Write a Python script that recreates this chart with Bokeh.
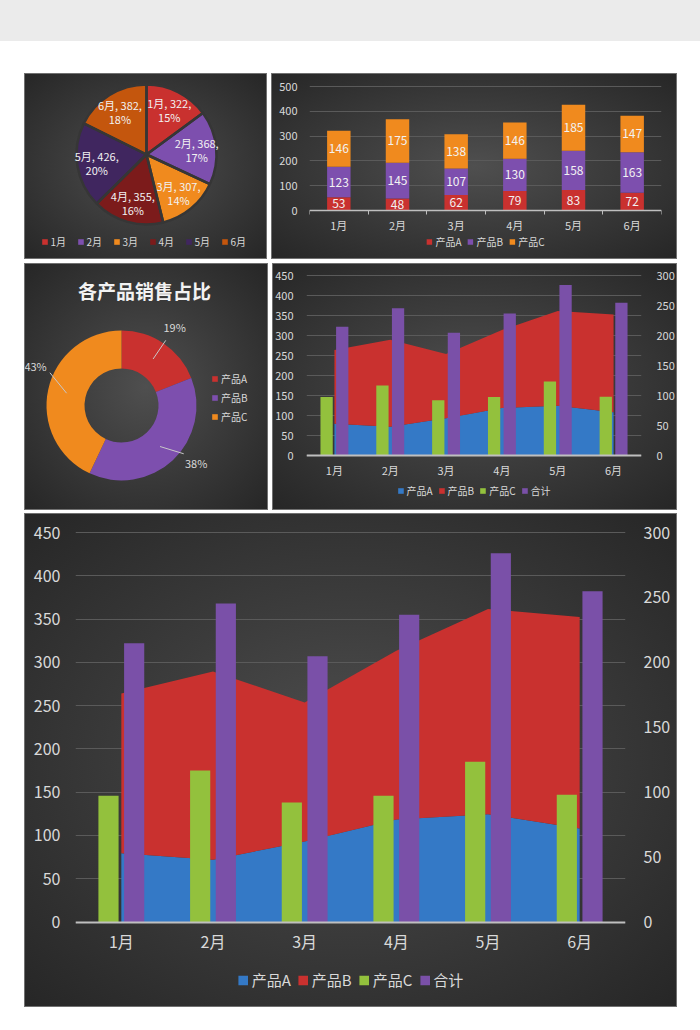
import math
from bokeh.plotting import figure
from bokeh.models import (Range1d, LinearAxis, FixedTicker, Legend, LegendItem,
                          ColumnDataSource, Div, CustomJSTickFormatter)
from bokeh.layouts import row, column
from bokeh.core.properties import value
from bokeh.transform import dodge
from bokeh.embed import file_html
from bokeh.resources import INLINE

# ---------------- data ----------------
months = ["1月", "2月", "3月", "4月", "5月", "6月"]
prod_a = [53, 48, 62, 79, 83, 72]
prod_b = [123, 145, 107, 130, 158, 163]
prod_c = [146, 175, 138, 146, 185, 147]
totals = [322, 368, 307, 355, 426, 382]
products = ["产品A", "产品B", "产品C"]
product_share = [19, 38, 43]
combo_names = ["产品A", "产品B", "产品C", "合计"]
donut_title = "各产品销售占比"
bar_ticks = [0, 100, 200, 300, 400, 500]
left_ticks = [0, 50, 100, 150, 200, 250, 300, 350, 400, 450]
right_ticks = [0, 50, 100, 150, 200, 250, 300]

# ---------------- style ----------------
FONT = "Noto Sans CJK SC"
TICK = "#d9d9d9"
LABEL = "#f2f2f2"
GRID = "#5a5a5a"
AXIS = "#bfbfbf"
RED = "#c9312f"
PURPLE = "#7d4fae"
ORANGE = "#f08a1e"
BLUE = "#3479c6"
GREEN = "#93c13d"
PURPLE2 = "#7a50a8"
pie_colors = [RED, PURPLE, ORANGE, "#7c1b1b", "#40265f", "#c4560d"]
donut_label_shift_deg = [0, -9, 12]   # layout tweak for the donut's leader labels

PANEL_STYLE = {
    "background": "radial-gradient(ellipse farthest-corner at 50% 50%, #4f4f4f 0%, #3c3c3c 45%, #262626 100%)",
    "box-shadow": "inset 0 0 0 1px #707070",
}

xs = list(range(1, len(months) + 1))

month_fmt_code = """
const i = Math.round(tick) - 1;
return (i >= 0 && i < labels.length) ? labels[i] : "";
"""


def panel(width, height, **kw):
    p = figure(width=width, height=height, output_backend="svg",
               toolbar_location=None, **kw)
    p.outline_line_color = None
    p.background_fill_color = None
    p.border_fill_color = None
    p.styles = PANEL_STYLE
    return p


def style_legend(leg, fs, glyph, label_h):
    leg.background_fill_alpha = 0
    leg.border_line_alpha = 0
    leg.label_text_color = TICK
    leg.label_text_font = FONT
    leg.label_text_font_size = fs
    leg.glyph_width = glyph
    leg.glyph_height = glyph
    leg.label_height = label_h
    leg.label_standoff = 3
    return leg


def ranges_for(height, top_px, zero_px, vmax):
    """Value range for a frame spanning the whole height, so that vmax sits top_px
    from the top and 0 sits zero_px from the top."""
    scale = (zero_px - top_px) / vmax
    return -(height - zero_px) / scale, vmax + top_px / scale


# ---------------- P1: pie ----------------
W1, H1 = 243, 186
p1 = panel(W1, H1, x_range=Range1d(0, W1), y_range=Range1d(0, H1),
           x_axis_type=None, y_axis_type=None, min_border=0)
cx1, cy1, R1 = 122, 105, 70
tot_sum = sum(totals)
st, en, lx, ly, l1, l2 = [], [], [], [], [], []
cum = 0
for m, t in zip(months, totals):
    a0 = cum / tot_sum
    cum += t
    a1 = cum / tot_sum
    s = math.pi / 2 - a1 * 2 * math.pi
    e = math.pi / 2 - a0 * 2 * math.pi
    mid = (s + e) / 2
    st.append(s)
    en.append(e)
    lx.append(cx1 + 0.72 * R1 * math.cos(mid))
    ly.append(cy1 + 0.72 * R1 * math.sin(mid))
    l1.append(f"{m}, {t},")
    l2.append(f"{round(100 * t / tot_sum)}%")
src1 = ColumnDataSource(dict(start=st, end=en, color=pie_colors, lx=lx, ly=ly, l1=l1, l2=l2))
w1 = p1.wedge(x=cx1, y=cy1, radius=R1, start_angle="start", end_angle="end",
              fill_color="color", line_color=None, source=src1)
p1.wedge(x=cx1, y=cy1, radius=R1, start_angle="start", end_angle="end",
         fill_color=None, line_color="#363636", line_width=2.5, source=src1)
for col, off in (("l1", -7), ("l2", 7)):
    p1.text(x="lx", y="ly", text=col, source=src1, text_font=value(FONT),
            text_font_size="11px", text_color=LABEL, text_align="center",
            text_baseline="middle", y_offset=off)
leg1 = Legend(items=[LegendItem(label=m, renderers=[w1], index=i) for i, m in enumerate(months)],
              orientation="horizontal", location="bottom_center", margin=9, padding=1, spacing=6)
style_legend(leg1, "10px", 7, 12)
p1.add_layout(leg1)

# ---------------- P2: stacked bars ----------------
W2, H2 = 406, 186
y2min, y2max = ranges_for(H2, 13, 137, bar_ticks[-1])
p2 = panel(W2, H2, x_range=Range1d(0.5, 6.5), y_range=Range1d(y2min, y2max),
           min_border_left=38, min_border_right=16, min_border_top=0, min_border_bottom=0)
src2 = ColumnDataSource(dict(x=xs, a=prod_a, b=prod_b, c=prod_c))
rs2 = p2.vbar_stack(["a", "b", "c"], x="x", width=0.4, fill_color=[RED, PURPLE, ORANGE],
                    line_color=None, source=src2)
lab_x, lab_y, lab_t = [], [], []
for i, x in enumerate(xs):
    base = 0
    for series in (prod_a, prod_b, prod_c):
        v = series[i]
        lab_x.append(x)
        lab_y.append(base + v / 2)
        lab_t.append(str(v))
        base += v
p2.text(x=lab_x, y=lab_y, text=lab_t, text_font=value(FONT), text_font_size="12px",
        text_color=LABEL, text_align="center", text_baseline="middle")
p2.yaxis.ticker = FixedTicker(ticks=bar_ticks)
p2.ygrid.ticker = FixedTicker(ticks=bar_ticks)
p2.xgrid.visible = False
p2.ygrid.grid_line_color = GRID
p2.yaxis.axis_line_color = None
p2.yaxis.major_tick_line_color = None
p2.yaxis.minor_tick_line_color = None
p2.yaxis.major_label_standoff = 6
p2.xaxis.fixed_location = 0
p2.xaxis.ticker = FixedTicker(ticks=xs, minor_ticks=[x - 0.5 for x in xs] + [xs[-1] + 0.5])
p2.xaxis.formatter = CustomJSTickFormatter(args=dict(labels=months), code=month_fmt_code)
p2.xaxis.axis_line_color = AXIS
p2.xaxis.axis_line_width = 1.5
p2.xaxis.major_tick_line_color = None
p2.xaxis.minor_tick_line_color = AXIS
p2.xaxis.minor_tick_out = 4
p2.xaxis.minor_tick_in = 0
p2.xaxis.major_label_standoff = 0
for ax in (p2.xaxis, p2.yaxis):
    ax.major_label_text_color = TICK
    ax.major_label_text_font = FONT
    ax.major_label_text_font_size = "11px"
leg2 = Legend(items=[LegendItem(label=n, renderers=[r]) for n, r in zip(products, rs2)],
              orientation="horizontal", location="bottom_center", margin=8, padding=2, spacing=5)
style_legend(leg2, "10px", 7, 12)
p2.add_layout(leg2)

# ---------------- P3: donut ----------------
W3, H3 = 244, 247
p3 = panel(W3, H3, x_range=Range1d(0, W3), y_range=Range1d(0, H3),
           x_axis_type=None, y_axis_type=None, min_border=0)
cx3, cy3, R3, r3 = 97, 105, 75, 37
share_sum = sum(product_share)
ds, de, x0s, y0s, x1s, y1s, tx, ty, tt = [], [], [], [], [], [], [], [], []
cum = 0
for v, shift in zip(product_share, donut_label_shift_deg):
    a0 = cum / share_sum
    cum += v
    a1 = cum / share_sum
    s = math.pi / 2 - a1 * 2 * math.pi
    e = math.pi / 2 - a0 * 2 * math.pi
    mid = (s + e) / 2
    lab = mid - math.radians(shift)
    ds.append(s)
    de.append(e)
    x0s.append(cx3 + 0.75 * R3 * math.cos(mid))
    y0s.append(cy3 + 0.75 * R3 * math.sin(mid))
    x1s.append(cx3 + 1.05 * R3 * math.cos(lab))
    y1s.append(cy3 + 1.05 * R3 * math.sin(lab))
    tx.append(cx3 + 1.26 * R3 * math.cos(lab))
    ty.append(cy3 + 1.26 * R3 * math.sin(lab))
    tt.append(f"{v}%")
src3 = ColumnDataSource(dict(start=ds, end=de, color=[RED, PURPLE, ORANGE],
                             x0=x0s, y0=y0s, x1=x1s, y1=y1s, tx=tx, ty=ty, tt=tt))
w3 = p3.annular_wedge(x=cx3, y=cy3, inner_radius=r3, outer_radius=R3, start_angle="start",
                      end_angle="end", fill_color="color", line_color=None, source=src3)
p3.segment(x0="x0", y0="y0", x1="x1", y1="y1", line_color="#c8c8c8", line_width=1, source=src3)
p3.text(x="tx", y="ty", text="tt", source=src3, text_align="center", text_baseline="middle",
        text_font=value(FONT), text_font_size="11px", text_color=TICK)
p3.text(x=[W3 / 2 - 2], y=[H3 - 27], text=[donut_title], text_font=value(FONT),
        text_font_size="19px", text_font_style="bold", text_color=LABEL,
        text_align="center", text_baseline="middle")
leg3 = Legend(items=[LegendItem(label=n, renderers=[w3], index=i) for i, n in enumerate(products)],
              orientation="vertical", location=(187, 86), margin=0, padding=0, spacing=4)
style_legend(leg3, "10px", 7, 12)
p3.add_layout(leg3)


# ---------------- P4 / P5: combo ----------------
def combo(width, height, lr, top_px, zero_px, tick_fs, legend_fs, glyph, label_h, xstand,
          ylstand, yrstand, leg_margin, leg_pad, leg_spacing):
    ymin, ymax = ranges_for(height, top_px, zero_px, left_ticks[-1])
    k = right_ticks[-1] / left_ticks[-1]
    p = panel(width, height, x_range=Range1d(0.5, 6.5), y_range=Range1d(ymin, ymax),
              min_border_left=lr[0], min_border_right=lr[1],
              min_border_top=0, min_border_bottom=0)
    p.extra_y_ranges = {"right": Range1d(ymin * k, ymax * k)}
    src = ColumnDataSource(dict(x=xs, a=prod_a, b=prod_b, c=prod_c, total=totals))
    areas = p.varea_stack(["a", "b"], x="x", fill_color=[BLUE, RED], source=src,
                          y_range_name="right")
    rc = p.vbar(x=dodge("x", -0.14, range=p.x_range), top="c", width=0.22,
                fill_color=GREEN, line_color=None, source=src)
    rt = p.vbar(x=dodge("x", 0.14, range=p.x_range), top="total", width=0.22,
                fill_color=PURPLE2, line_color=None, source=src)
    yr = LinearAxis(y_range_name="right", ticker=FixedTicker(ticks=right_ticks))
    p.add_layout(yr, "right")
    p.yaxis[0].ticker = FixedTicker(ticks=left_ticks)
    p.ygrid.ticker = FixedTicker(ticks=left_ticks)
    p.ygrid.grid_line_color = GRID
    p.xgrid.visible = False
    p.xaxis.fixed_location = 0
    p.xaxis.ticker = FixedTicker(ticks=xs)
    p.xaxis.formatter = CustomJSTickFormatter(args=dict(labels=months), code=month_fmt_code)
    p.xaxis.axis_line_color = AXIS
    p.xaxis.axis_line_width = 2
    p.xaxis.major_tick_line_color = None
    p.xaxis.minor_tick_line_color = None
    p.xaxis.major_label_standoff = xstand
    for ax in p.yaxis:
        ax.axis_line_color = None
        ax.major_tick_line_color = None
        ax.minor_tick_line_color = None
    p.yaxis[0].major_label_standoff = ylstand
    yr.major_label_standoff = yrstand
    for ax in list(p.xaxis) + list(p.yaxis):
        ax.major_label_text_color = TICK
        ax.major_label_text_font = FONT
        ax.major_label_text_font_size = tick_fs
    leg = Legend(items=[LegendItem(label=n, renderers=[r])
                        for n, r in zip(combo_names, [areas[0], areas[1], rc, rt])],
                 orientation="horizontal", location="bottom_center", margin=leg_margin,
                 padding=leg_pad, spacing=leg_spacing)
    style_legend(leg, legend_fs, glyph, label_h)
    p.add_layout(leg)
    return p


p4 = combo(405, 247, (33, 34), 12, 192, "11px", "10px", 7, 12, 0, 7, 9, 10, 2, 5)
p5 = combo(653, 494, (51, 52), 19, 408.5, "16px", "15px", 12, 18, 1, 9, 12, 15, 2, 6)

# ---------------- layout ----------------
band = Div(text="", width=700, height=41, margin=(0, 0, 0, 0),
           styles={"background-color": "#ebebeb"})
p1.margin = (32, 0, 0, 24)
p2.margin = (32, 0, 0, 4)
p3.margin = (4, 0, 0, 24)
p4.margin = (4, 0, 0, 4)
p5.margin = (3, 0, 0, 24)
layout = column(band, row(p1, p2, margin=(0, 0, 0, 0)), row(p3, p4, margin=(0, 0, 0, 0)), p5,
                margin=(0, 0, 0, 0), spacing=0)

open("out.html", "w").write(file_html(layout, INLINE, title="chart"))
